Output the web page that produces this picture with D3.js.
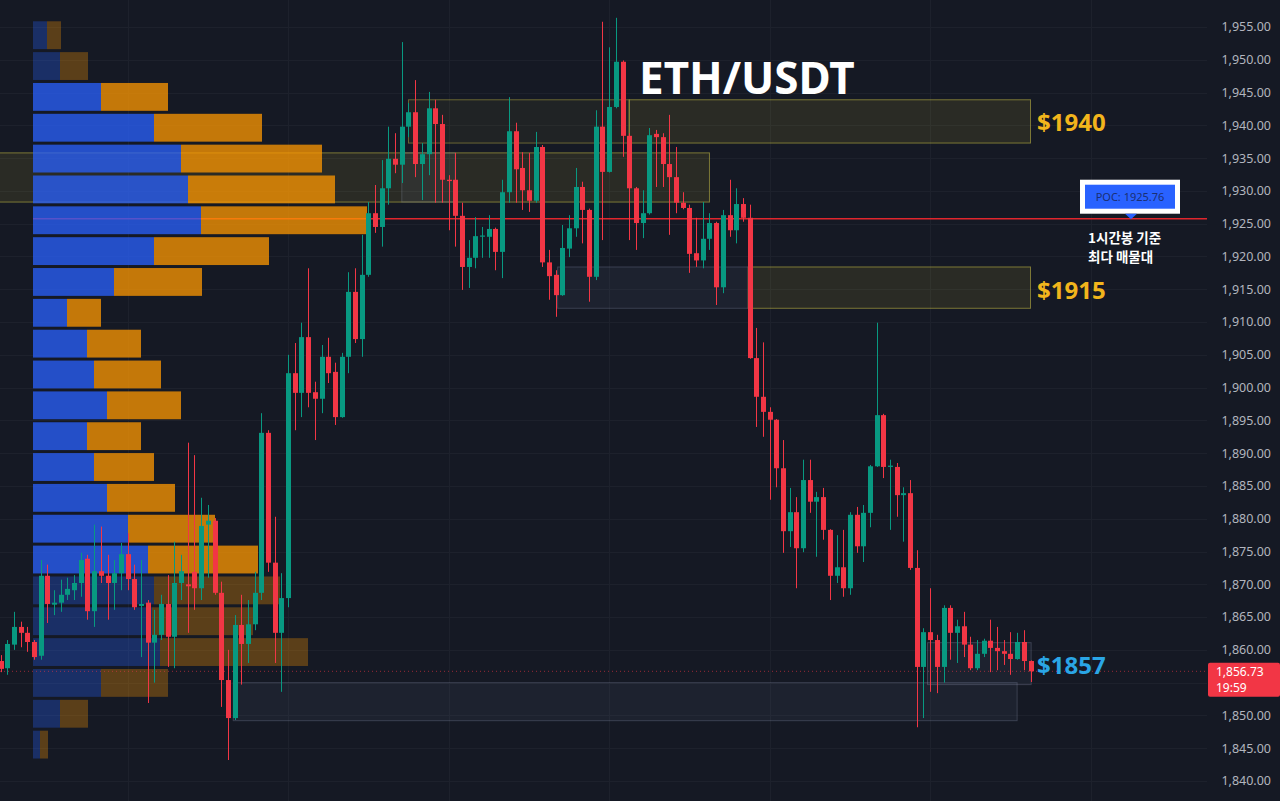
<!DOCTYPE html>
<html>
<head>
<meta charset="utf-8">
<script src="https://cdn.jsdelivr.net/npm/d3@7"></script>
<style>
  body { margin: 0; background: #151924; overflow: hidden; }
  svg { display: block; }
</style>
</head>
<body>
<div id="main"></div>
<script>
// 1h candles, ETH/USDT
const OPEN = [1858.3,1857.2,1860.8,1863.5,1862.6,1861.2,1859.1,1871.3,1866.9,1867.2,1868.4,1869.1,1870.2,1873.9,1865.9,1872.0,1871.3,1870.2,1871.7,1874.6,
  1870.8,1866.7,1867.2,1861.1,1862.3,1867.0,1862.0,1870.2,1870.0,1871.9,1869.4,1879.1,1879.7,1868.7,1855.4,1849.6,1863.8,1860.9,1863.9,1868.7,
  1893.1,1873.3,1862.6,1867.9,1902.2,1899.2,1907.7,1899.3,1898.3,1904.7,1902.4,1895.5,1904.7,1914.6,1907.4,1917.2,1926.6,1924.5,1930.4,1934.9,
  1934.0,1939.8,1942.0,1934.1,1935.6,1942.6,1940.2,1931.7,1931.7,1926.2,1918.4,1919.8,1923.1,1923.0,1924.2,1920.7,1929.8,1939.1,1933.5,1930.1,
  1928.5,1936.7,1919.1,1917.2,1914.1,1921.2,1924.3,1930.6,1927.1,1916.9,1939.8,1932.9,1942.8,1949.7,1938.4,1930.4,1925.1,1926.6,1938.7,1938.2,
  1934.1,1932.1,1928.2,1927.4,1920.5,1919.4,1922.7,1925.1,1915.3,1926.3,1924.0,1928.0,1925.9,1904.5,1898.6,1896.3,1895.1,1887.7,1878.1,1881.0,
  1875.5,1885.9,1882.6,1883.3,1878.3,1871.3,1872.6,1869.4,1880.6,1875.8,1880.9,1888.0,1895.8,1887.9,1887.9,1883.6,1883.9,1872.5,1857.4,1862.7,
  1861.5,1857.4,1866.4,1862.6,1863.6,1860.8,1857.2,1859.4,1861.4,1860.3,1859.8,1859.4,1858.6,1861.2,1858.3];
const HIGH = [1859.2,1861.5,1865.8,1864.3,1863.5,1861.5,1873.7,1873.0,1869.1,1870.7,1871.0,1871.4,1874.8,1874.5,1879.1,1878.8,1874.5,1873.7,1876.3,1877.8,
  1873.0,1873.7,1867.6,1866.1,1868.4,1871.4,1876.5,1874.5,1891.6,1889.7,1883.2,1882.1,1880.1,1870.4,1860.0,1865.3,1868.4,1867.6,1871.9,1896.1,
  1893.5,1880.3,1871.7,1905.0,1906.8,1909.9,1918.2,1900.9,1906.5,1907.6,1903.8,1905.3,1917.6,1918.2,1923.3,1928.3,1930.9,1934.7,1939.8,1938.8,
  1952.7,1943.4,1946.9,1937.3,1945.1,1943.9,1941.6,1932.4,1935.8,1928.2,1922.5,1926.0,1924.5,1926.3,1924.4,1931.7,1944.3,1940.4,1935.9,1935.8,
  1939.0,1937.0,1921.0,1917.9,1924.8,1926.3,1933.5,1931.4,1927.3,1942.3,1955.8,1951.9,1956.4,1949.9,1938.8,1930.6,1930.1,1939.6,1939.3,1938.8,
  1941.6,1936.7,1929.8,1927.9,1925.9,1928.3,1926.6,1925.3,1927.1,1931.7,1930.4,1928.9,1927.9,1909.1,1906.9,1897.0,1895.2,1892.0,1884.7,1883.3,
  1889.0,1889.0,1884.1,1884.7,1878.4,1877.5,1878.3,1881.0,1881.8,1882.1,1888.2,1909.9,1896.0,1889.0,1888.5,1884.8,1885.9,1875.2,1863.3,1869.4,
  1862.3,1866.8,1866.8,1864.6,1865.8,1862.0,1861.5,1861.7,1864.6,1863.5,1861.5,1862.7,1862.6,1863.0,1858.4];
const LOW = [1856.6,1856.2,1860.0,1860.4,1859.7,1858.5,1858.5,1864.1,1865.3,1865.8,1867.6,1867.6,1868.1,1864.6,1863.5,1870.2,1864.6,1866.1,1869.1,1869.1,
  1866.1,1858.9,1851.9,1855.0,1861.5,1857.4,1857.2,1867.6,1862.6,1866.1,1867.6,1871.0,1868.4,1851.3,1843.2,1849.3,1854.7,1858.0,1863.0,1867.6,
  1871.9,1858.0,1853.6,1866.5,1893.5,1895.5,1897.0,1892.0,1896.1,1900.7,1894.3,1895.4,1902.2,1906.8,1904.7,1916.9,1923.6,1921.5,1927.9,1932.7,
  1931.2,1938.2,1932.1,1928.6,1932.4,1928.2,1928.2,1924.0,1921.5,1914.9,1915.2,1918.2,1919.8,1919.8,1917.9,1916.7,1928.2,1928.2,1927.1,1926.8,
  1928.2,1918.4,1913.4,1910.8,1914.0,1919.9,1923.0,1922.0,1913.1,1916.4,1922.5,1932.8,1942.6,1935.2,1922.5,1921.0,1922.8,1926.4,1930.6,1930.6,
  1923.3,1926.6,1927.2,1917.5,1918.4,1918.2,1921.0,1912.6,1914.4,1923.0,1922.0,1925.3,1904.4,1894.0,1892.5,1882.9,1884.8,1874.8,1875.7,1869.4,
  1874.9,1880.9,1874.2,1876.8,1867.6,1870.2,1868.1,1868.4,1874.8,1873.4,1878.7,1887.9,1886.2,1878.3,1880.3,1876.5,1872.2,1848.2,1849.6,1853.6,
  1853.4,1855.0,1858.5,1858.0,1858.9,1856.9,1856.9,1858.9,1856.6,1856.9,1857.7,1856.2,1858.5,1856.9,1855.1];
const CLOSE = [1857.1,1860.9,1863.5,1862.6,1861.2,1858.9,1871.3,1867.0,1867.2,1868.4,1869.3,1870.2,1873.7,1865.9,1872.0,1871.3,1870.2,1871.7,1874.6,1870.8,
  1866.5,1867.0,1861.1,1862.3,1867.0,1862.0,1870.2,1872.0,1869.7,1869.4,1878.9,1879.7,1868.7,1855.4,1849.6,1863.8,1860.9,1863.9,1868.7,1893.1,
  1873.3,1862.6,1867.9,1902.2,1899.2,1907.7,1899.2,1898.3,1904.7,1902.2,1895.5,1904.7,1914.6,1907.4,1917.2,1926.6,1924.5,1930.4,1934.9,1934.0,
  1939.8,1942.0,1934.1,1935.6,1942.6,1940.2,1931.7,1931.5,1926.2,1918.4,1919.8,1923.1,1923.2,1924.2,1920.7,1929.8,1939.1,1933.3,1930.1,1928.5,
  1936.7,1919.1,1917.0,1914.1,1921.3,1924.3,1930.6,1927.1,1916.9,1939.8,1932.9,1942.8,1949.7,1938.4,1930.4,1925.1,1926.6,1938.5,1938.2,1934.1,
  1932.1,1928.2,1927.4,1920.4,1919.4,1922.7,1925.1,1915.3,1926.3,1924.0,1928.0,1925.9,1904.5,1898.6,1896.3,1895.1,1887.7,1878.1,1881.0,1875.5,
  1885.9,1882.6,1883.3,1878.3,1871.3,1872.6,1869.4,1880.6,1875.8,1880.9,1888.0,1895.8,1887.9,1888.1,1883.6,1883.9,1872.5,1857.4,1862.7,1861.5,
  1857.4,1866.4,1862.6,1863.6,1860.8,1857.2,1859.4,1861.4,1860.3,1859.8,1859.4,1858.6,1861.2,1858.3,1856.73];

// volume profile (visible range), rows listed from the top price bin down
const VP_HIGH = 1956.1;
const VP_LOW = 1843.2;
const VP_UP   = [14,27,68,121,148,155,168,121,81,34,54,61,74,54,61,74,95,115,121,119,127,68,27,7];
const VP_DOWN = [14,28,67,108,141,147,166,115,88,34,54,67,74,54,60,68,87,110,126,101,148,67,28,8];
const VP_VALUE_AREA = [2, 17];   // first and last row inside the value area
const POC = 1925.76;
const LAST = 1856.73;
const LAST_TIMER = "19:59";

// boxes drawn on the chart: [fromBar, toBar, top, bottom, kind]
const ZONES = [
  [-1, 106, 1935.8, 1928.3, "supply"],
  [60, 68, 1935.8, 1928.3, "block"],
  [61, 94, 1943.9, 1937.3, "supplyDim"],
  [94, 154, 1943.9, 1937.3, "supply"],
  [83.3, 111.8, 1918.4, 1912.1, "block"],
  [111.8, 154, 1918.4, 1912.1, "supply"],
  [34.8, 152, 1855.0, 1849.2, "block"],
  [138.6, 154.1, 1861.1, 1854.7, "block"],
];
const ZONE_LABELS = [["$1940", 1940.4, "#f2b51c"], ["$1915", 1914.8, "#f2b51c"], ["$1857", 1857.6, "#2aa6e6"]];

const Y_TICKS = d3.range(1840, 1956, 5);
const GRID_BARS = [19, 43, 67, 91, 115, 139, 163];

const W = 1280, H = 801, PLOT_R = 1207;
const UP = "#089981", DOWN = "#f23645";

const svg = d3.select("#main").append("svg").attr("width", W).attr("height", H);
svg.append("rect").attr("width", W).attr("height", H).attr("fill", "#151924");

const y = d3.scaleLinear().domain([1840, 1955]).range([781, 27]);
const x = d3.scaleLinear().domain([0, 154]).range([0.5, 1030.5]);

// grid
const grid = svg.append("g");
grid.selectAll("line.h").data(Y_TICKS).enter().append("line")
  .attr("x1", 0).attr("x2", PLOT_R)
  .attr("y1", d => Math.round(y(d)) + 0.5).attr("y2", d => Math.round(y(d)) + 0.5)
  .attr("stroke", "#1d212c").attr("stroke-width", 1);
grid.selectAll("line.v").data(GRID_BARS).enter().append("line")
  .attr("x1", d => Math.round(x(d)) + 0.5).attr("x2", d => Math.round(x(d)) + 0.5)
  .attr("y1", 0).attr("y2", H)
  .attr("stroke", "#1d212c").attr("stroke-width", 1);

// zones (under the profile)
const zoneStyle = {
  supply: { fill: "#ffeb3b", fo: 0.09, stroke: "#c9bf45", so: 0.55 },
  supplyDim: { fill: "#ffeb3b", fo: 0.05, stroke: "#c9bf45", so: 0.45 },
  block: { fill: "#7f8fb8", fo: 0.08, stroke: "#8a93ad", so: 0.3 },
};
svg.append("g").selectAll("rect").data(ZONES).enter().append("rect")
  .attr("x", d => x(d[0])).attr("width", d => x(d[1]) - x(d[0]))
  .attr("y", d => y(d[2])).attr("height", d => y(d[3]) - y(d[2]))
  .attr("fill", d => zoneStyle[d[4]].fill).attr("fill-opacity", d => zoneStyle[d[4]].fo)
  .attr("stroke", d => zoneStyle[d[4]].stroke).attr("stroke-opacity", d => zoneStyle[d[4]].so)
  .attr("stroke-width", 1);

// POC line sits under the profile so it tints through the bars
svg.append("line")
  .attr("x1", 33).attr("x2", PLOT_R)
  .attr("y1", y(POC)).attr("y2", y(POC))
  .attr("stroke", "#e0262d").attr("stroke-width", 1.5);

// volume profile
const step = (VP_HIGH - VP_LOW) / VP_UP.length;
const totals = VP_UP.map((v, i) => v + VP_DOWN[i]);
const vx = d3.scaleLinear().domain([0, d3.max(totals)]).range([0, 334]);
const vp = svg.append("g");
VP_UP.forEach((up, i) => {
  const top = y(VP_HIGH - i * step) + 1.5;
  const bot = y(VP_HIGH - (i + 1) * step) - 1.5;
  const inVA = i >= VP_VALUE_AREA[0] && i <= VP_VALUE_AREA[1];
  const op = inVA ? 0.75 : 0.3;
  vp.append("rect").attr("x", 33).attr("y", top)
    .attr("width", vx(up)).attr("height", bot - top)
    .attr("fill", "#2962ff").attr("fill-opacity", op);
  vp.append("rect").attr("x", 33 + vx(up)).attr("y", top)
    .attr("width", vx(VP_DOWN[i])).attr("height", bot - top)
    .attr("fill", "#ff9800").attr("fill-opacity", op);
});

// last price dotted line
svg.append("line")
  .attr("x1", 0).attr("x2", PLOT_R)
  .attr("y1", y(LAST)).attr("y2", y(LAST))
  .attr("stroke", DOWN).attr("stroke-opacity", 0.6)
  .attr("stroke-dasharray", "1,3");

// candles
const bars = d3.range(OPEN.length);
const cg = svg.append("g");
cg.selectAll("line").data(bars).enter().append("line")
  .attr("x1", i => Math.round(x(i)) + 0.5).attr("x2", i => Math.round(x(i)) + 0.5)
  .attr("y1", i => y(HIGH[i])).attr("y2", i => y(LOW[i]))
  .attr("stroke", i => CLOSE[i] >= OPEN[i] ? UP : DOWN).attr("stroke-width", 1);
cg.selectAll("rect").data(bars).enter().append("rect")
  .attr("x", i => Math.round(x(i)) - 2)
  .attr("width", 5)
  .attr("y", i => y(Math.max(OPEN[i], CLOSE[i])))
  .attr("height", i => Math.max(1.2, Math.abs(y(OPEN[i]) - y(CLOSE[i]))))
  .attr("fill", i => CLOSE[i] >= OPEN[i] ? UP : DOWN);

// price axis (the last price tag hides the tick under it)
const tagY = y(LAST);
svg.append("g").selectAll("text")
  .data(Y_TICKS.filter(d => Math.abs(y(d) - (tagY + 8.5)) > 20))
  .enter().append("text")
  .attr("x", 1271).attr("y", d => y(d)).attr("dy", "0.35em")
  .attr("text-anchor", "end")
  .attr("font-family", "Noto Sans, sans-serif").attr("font-size", 12.5)
  .attr("fill", "#b2b5be")
  .text(d => d3.format(",.2f")(d));

// last price tag
svg.append("rect").attr("x", 1208).attr("y", tagY - 8.5).attr("width", 72).attr("height", 34)
  .attr("fill", DOWN).attr("rx", 2);
svg.append("text").attr("x", 1216).attr("y", tagY + 5)
  .attr("font-family", "Noto Sans, sans-serif").attr("font-size", 12).attr("fill", "#fff")
  .text(d3.format(",.2f")(LAST));
svg.append("text").attr("x", 1216).attr("y", tagY + 21)
  .attr("font-family", "Noto Sans, sans-serif").attr("font-size", 12).attr("fill", "#fff")
  .text(LAST_TIMER);

// title
svg.append("text").attr("x", 639).attr("y", 94)
  .attr("font-family", "Noto Sans, sans-serif").attr("font-weight", "bold")
  .attr("font-size", 44).attr("fill", "#ffffff")
  .text("ETH/USDT");

// zone price labels
svg.append("g").selectAll("text").data(ZONE_LABELS).enter().append("text")
  .attr("x", 1037).attr("y", d => y(d[1])).attr("dy", "0.36em")
  .attr("font-family", "Noto Sans, sans-serif").attr("font-weight", "bold")
  .attr("font-size", 24).attr("fill", d => d[2])
  .text(d => d[0]);

// POC callout
const pocY = y(POC);
svg.append("rect").attr("x", 1080).attr("y", pocY - 39).attr("width", 100).attr("height", 34)
  .attr("fill", "#ffffff");
svg.append("rect").attr("x", 1085).attr("y", pocY - 34).attr("width", 90).attr("height", 24)
  .attr("fill", "#2962ff");
svg.append("path")
  .attr("d", `M1125,${pocY - 5} L1137,${pocY - 5} L1131,${pocY + 0.5} Z`)
  .attr("fill", "#2962ff");
svg.append("text").attr("x", 1130).attr("y", pocY - 18).attr("text-anchor", "middle")
  .attr("font-family", "Noto Sans, sans-serif").attr("font-size", 11)
  .attr("fill", "#1a2f73")
  .text("POC: " + POC.toFixed(2));
svg.append("text").attr("x", 1088).attr("y", pocY + 24)
  .attr("font-family", "Noto Sans CJK KR, sans-serif").attr("font-weight", "bold")
  .attr("font-size", 13.5).attr("fill", "#ffffff")
  .text("1시간봉 기준");
svg.append("text").attr("x", 1088).attr("y", pocY + 43)
  .attr("font-family", "Noto Sans CJK KR, sans-serif").attr("font-weight", "bold")
  .attr("font-size", 13.5).attr("fill", "#ffffff")
  .text("최다 매물대");
</script>
</body>
</html>
